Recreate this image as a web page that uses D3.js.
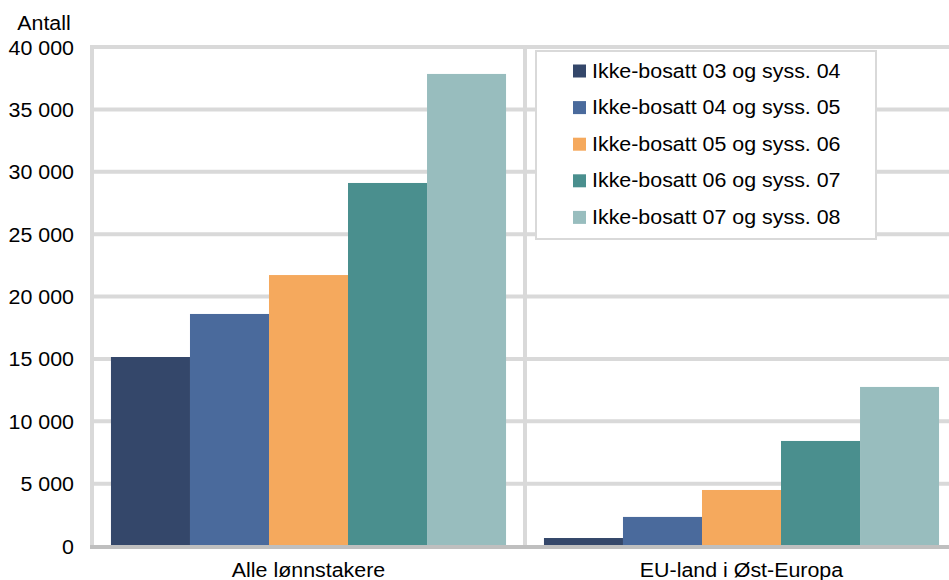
<!DOCTYPE html>
<html><head><meta charset="utf-8">
<script src="https://cdn.jsdelivr.net/npm/d3@7"></script>
<style>body{margin:0;background:#fff;} text{font-family:"Liberation Sans",Arial,sans-serif;}</style>
</head><body><svg id="c" width="949" height="580"></svg>
<script>
const categories = ["Alle lønnstakere", "EU-land i Øst-Europa"];
const seriesNames = ["Ikke-bosatt 03 og syss. 04","Ikke-bosatt 04 og syss. 05","Ikke-bosatt 05 og syss. 06","Ikke-bosatt 06 og syss. 07","Ikke-bosatt 07 og syss. 08"];
const s0304 = [15150, 640];
const s0405 = [18600, 2330];
const s0506 = [21720, 4490];
const s0607 = [29100, 8420];
const s0708 = [37840, 12750];
const seriesValues = [s0304, s0405, s0506, s0607, s0708];
const colors = ["#34476a","#4a6a9c","#f5a95d","#4a8f8e","#98bdbe"];
const yTicks = [0,5000,10000,15000,20000,25000,30000,35000,40000];
const yTitle = "Antall";

const FS = 20, SX = 1.07;
const svg = d3.select("#c");
const pLeft = 92, pRight = 958, pTop = 47, pBottom = 546;
const x0 = d3.scaleBand().domain(categories).range([pLeft, pRight]).paddingInner(0).paddingOuter(0);
const x1 = d3.scaleBand().domain(seriesNames).range([0, x0.bandwidth()]).paddingOuter(0.24).paddingInner(0);
const y = d3.scaleLinear().domain([0, 40000]).range([pBottom, pTop]);
const fmt = v => d3.format(",")(v).replace(/,/g, " ");

// horizontal gridlines
svg.append("g").selectAll("line").data(yTicks.filter(d=>d>0)).join("line")
  .attr("x1", pLeft).attr("x2", 949).attr("y1", d=>y(d)).attr("y2", d=>y(d))
  .attr("stroke", "#d9d9d9").attr("stroke-width", 4);
// vertical gridlines
svg.append("g").selectAll("line").data(categories).join("line")
  .attr("x1", d=>x0(d)).attr("x2", d=>x0(d)).attr("y1", pTop-2).attr("y2", pBottom)
  .attr("stroke", "#d9d9d9").attr("stroke-width", 4);

// bars
const g = svg.append("g");
seriesNames.forEach((s, i) => {
  g.append("g").selectAll("rect").data(categories).join("rect")
    .attr("x", d => x0(d) + x1(s))
    .attr("width", x1.bandwidth())
    .attr("y", (d, j) => y(seriesValues[i][j]))
    .attr("height", (d, j) => pBottom - y(seriesValues[i][j]))
    .attr("fill", colors[i]);
});

// baseline
svg.append("line").attr("x1", pLeft-2).attr("x2", 949).attr("y1", pBottom+1).attr("y2", pBottom+1)
  .attr("stroke", "#bfbfbf").attr("stroke-width", 4);

// y axis labels
const yAxis = d3.axisLeft(y).tickValues(yTicks).tickFormat(fmt).tickSize(0).tickPadding(0);
const ya = svg.append("g").attr("transform", `translate(74,0)`).call(yAxis);
ya.select(".domain").remove();
ya.selectAll("text").attr("font-size", FS).attr("fill", "#000").attr("font-family", "Liberation Sans, Arial, sans-serif")
  .attr("x", 0).attr("dy", "0.35em").attr("transform", `scale(${SX},1)`);
svg.append("text").attr("transform", `translate(44,30) scale(${SX},1)`).attr("text-anchor", "middle").attr("font-size", FS).text(yTitle);

// x axis labels
const xAxis = d3.axisBottom(x0).tickSize(0).tickPadding(0);
const xa = svg.append("g").attr("transform", `translate(0,577)`).call(xAxis);
xa.select(".domain").remove();
xa.selectAll("text").attr("font-size", FS).attr("fill", "#000").attr("font-family", "Liberation Sans, Arial, sans-serif")
  .attr("y", 0).attr("dy", 0).attr("transform", `scale(${SX},1)`);

// legend
const lg = svg.append("g");
lg.append("rect").attr("x", 536).attr("y", 51).attr("width", 340).attr("height", 188)
  .attr("fill", "#fff").attr("stroke", "#d9d9d9").attr("stroke-width", 2);
seriesNames.forEach((s, i) => {
  const cy = 71 + i * 36.6;
  lg.append("rect").attr("x", 573).attr("y", cy - 6.5).attr("width", 13).attr("height", 13).attr("fill", colors[i]);
  lg.append("text").attr("transform", `translate(592,${cy + 6.5}) scale(${SX},1)`).attr("font-size", FS).text(s);
});
</script></body></html>
